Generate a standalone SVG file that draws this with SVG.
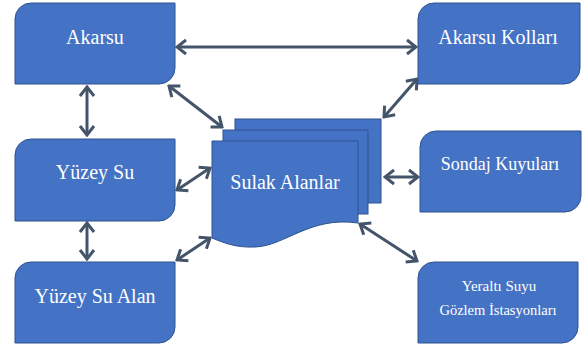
<svg xmlns="http://www.w3.org/2000/svg" width="585" height="351" viewBox="0 0 585 351">
<defs>
<style>
.box{fill:#4472C4;stroke:#2F528F;stroke-width:1}
.lbl{font-family:'Liberation Serif','Times New Roman','DejaVu Serif',serif;fill:#FFFFFF;text-anchor:middle}
.con{stroke:#44546A;stroke-width:3;fill:none;marker-start:url(#ah);marker-end:url(#ah)}
</style>
<marker id="ah" markerUnits="userSpaceOnUse" viewBox="-12 -9 14 18" markerWidth="14" markerHeight="18" refX="0" refY="0" orient="auto-start-reverse">
<path d="M-9,-7 L0,0 L-9,7" fill="none" stroke="#44546A" stroke-width="3" stroke-linejoin="miter"/>
</marker>
</defs>
<rect width="585" height="351" fill="#FFFFFF"/>
<g id="connectors">
<line class="con" x1="177" y1="47" x2="416" y2="47"/>
<line class="con" x1="87" y1="87" x2="87" y2="135"/>
<line class="con" x1="87" y1="223" x2="87" y2="259"/>
<line class="con" x1="169" y1="86" x2="222" y2="127"/>
<line class="con" x1="417" y1="79" x2="384" y2="117"/>
<line class="con" x1="385" y1="177" x2="418" y2="177"/>
<line class="con" x1="177" y1="190" x2="210" y2="168"/>
<line class="con" x1="177" y1="260" x2="210" y2="238"/>
<line class="con" x1="360" y1="224" x2="417" y2="261"/>
</g>
<g id="akarsu">
<path class="box" d="M31,3 H175 V68 A16,16 0 0 1 159,84 H15 V19 A16,16 0 0 1 31,3 Z"/>
<text class="lbl" x="95" y="44" font-size="20" font-family="Liberation Serif, serif">Akarsu</text>
</g>
<g id="akarsu-kollari">
<path class="box" d="M434,3 H580 V68 A16,16 0 0 1 564,84 H418 V19 A16,16 0 0 1 434,3 Z"/>
<text class="lbl" x="498" y="44" font-size="20" font-family="Liberation Serif, serif">Akarsu Kolları</text>
</g>
<g id="yuzey-su">
<path class="box" d="M31,139 H175 V205 A16,16 0 0 1 159,221 H15 V155 A16,16 0 0 1 31,139 Z"/>
<text class="lbl" x="95" y="179" font-size="20" font-family="Liberation Serif, serif">Yüzey Su</text>
</g>
<g id="yuzey-su-alan">
<path class="box" d="M31,262 H175 V327 A16,16 0 0 1 159,343 H15 V278 A16,16 0 0 1 31,262 Z"/>
<text class="lbl" x="95" y="303" font-size="20" font-family="Liberation Serif, serif">Yüzey Su Alan</text>
</g>
<g id="sondaj-kuyulari">
<path class="box" d="M436,131 H581 V196 A16,16 0 0 1 565,212 H420 V147 A16,16 0 0 1 436,131 Z"/>
<text class="lbl" x="500" y="170" font-size="18" font-family="Liberation Serif, serif">Sondaj Kuyuları</text>
</g>
<g id="yeralti-suyu">
<path class="box" d="M434,262 H578 V327 A16,16 0 0 1 562,343 H418 V278 A16,16 0 0 1 434,262 Z"/>
<text class="lbl" x="499" y="291" font-size="15" font-family="Liberation Serif, serif">Yeraltı Suyu</text>
<text class="lbl" x="498" y="315" font-size="14.5" font-family="Liberation Serif, serif">Gözlem İstasyonları</text>
</g>
<g id="sulak-alanlar">
<rect class="box" x="235" y="119" width="146" height="84"/>
<rect class="box" x="223" y="130" width="145" height="84"/>
<path class="box" d="M212,141 H358 V223 C310,216 285,246 255,247 C235,248 222,242 212,238 Z"/>
<text class="lbl" x="285" y="189" font-size="20" font-family="Liberation Serif, serif">Sulak Alanlar</text>
</g>
</svg>
